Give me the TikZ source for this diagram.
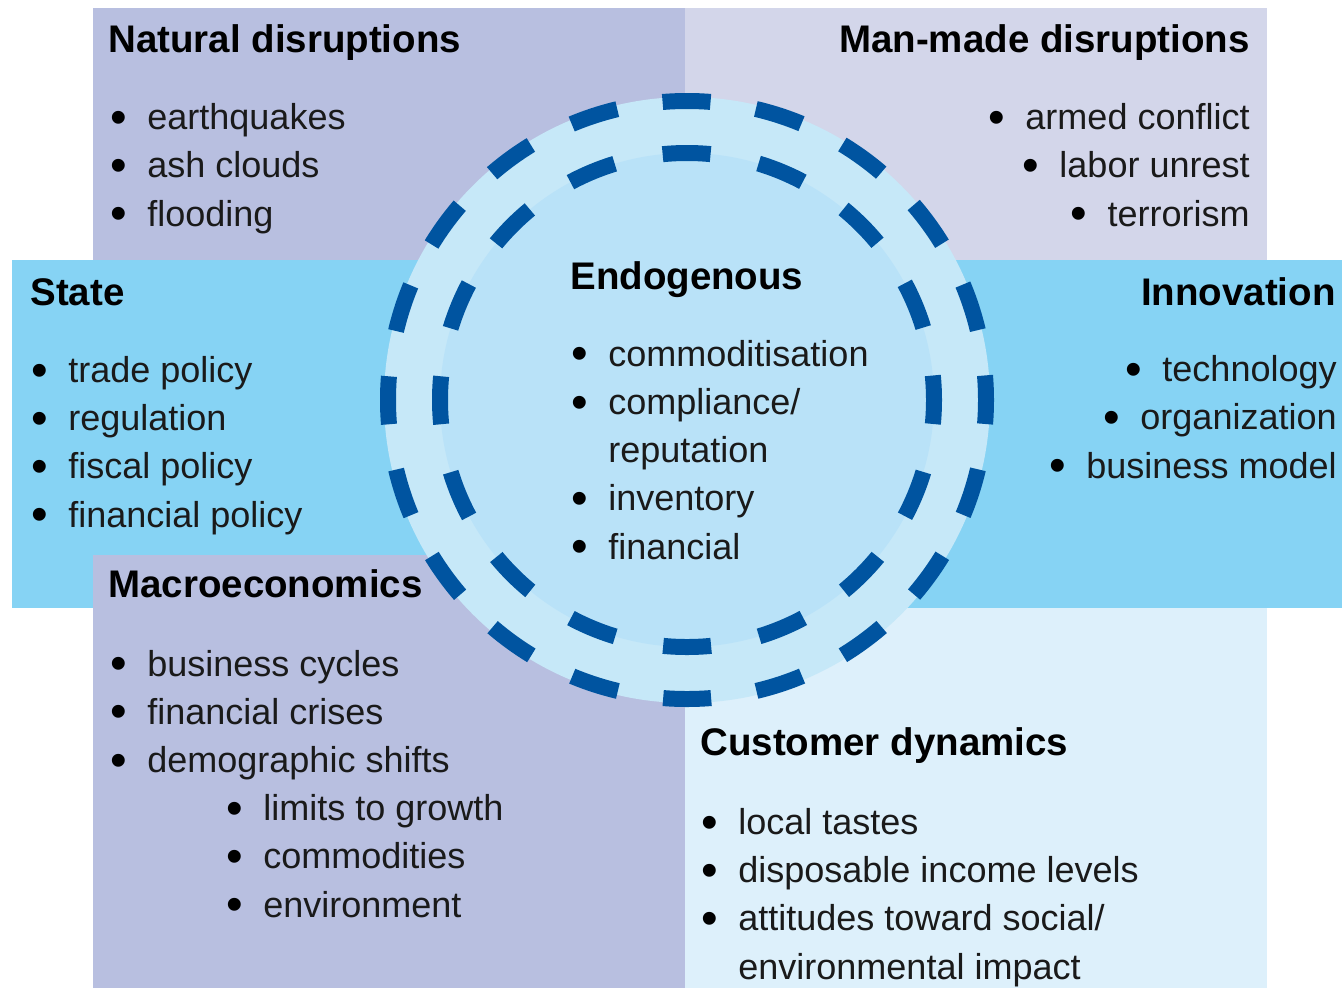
\documentclass[tikz,border=0pt]{standalone}
\usepackage{fontspec}
\setmainfont{Liberation Sans}
\usetikzlibrary{positioning}
\definecolor{natbg}{HTML}{B8BFE0}
\definecolor{manbg}{HTML}{D3D6EA}
\definecolor{bandbg}{HTML}{86D3F4}
\definecolor{custbg}{HTML}{DDF0FB}
\definecolor{diskout}{HTML}{C6E8F8}
\definecolor{diskin}{HTML}{B9E2F8}
\definecolor{dashblue}{HTML}{0054A0}
\definecolor{ink}{HTML}{1A1A1A}
\newcommand{\bul}{\makebox[0.74cm][l]{\raisebox{-0.07cm}{\fontsize{27}{27}\selectfont\textcolor{black}{\textbullet}}}}
\newcommand{\cont}{\hspace*{0.74cm}}
\tikzset{
    heading/.style={inner sep=0pt, text=black, font=\fontsize{21.9}{26}\selectfont\bfseries},
    bullets/.style={inner sep=0pt, text=ink, font=\fontsize{20.5}{27.4}\selectfont},
    ring/.style={dashblue, line width=0.32cm, dash phase=0.48cm},
}

\begin{document}
\begin{tikzpicture}[x=0.02cm, y=-0.02cm]
    \useasboundingbox (0,0) rectangle (1342,988);
    \fill[white] (0,0) rectangle (1342,988);

    % Draw quadrant boxes and the middle band.
    \fill[natbg] (93,8) rectangle (685,555);
    \fill[manbg] (685,8) rectangle (1267,260);
    \fill[bandbg] (12,260) rectangle (1342,608);
    \fill[natbg] (93,555) rectangle (685,988);
    \fill[custbg] (685,608) rectangle (1267,988);

    % Draw endogenous disk with dashed rings.
    \fill[diskout] (687,400) circle [radius=303];
    \fill[diskin] (687,400) circle [radius=247];
    \draw[ring, dash pattern=on 0.96cm off 0.9187cm] (687,400) circle [radius=299];
    \draw[ring, dash pattern=on 0.96cm off 0.9799cm] (687,400) circle [radius=247];

    % Top row (lists sit on the baseline of their last line).
    \node[heading, anchor=base west] (nat) at (108,52) {Natural disruptions};
    \node[bullets, anchor=base west, align=left] (natlist) at (110,226)
        {\bul earthquakes\\ \bul ash clouds\\ \bul flooding};
    \node[heading, anchor=base east] (man) at (1250,52) {Man-made disruptions};
    \node[bullets, anchor=base east, align=right] (manlist) at (1250,226)
        {\bul armed conflict\\ \bul labor unrest\\ \bul terrorism};

    % Middle band.
    \node[heading, anchor=base west] (state) at (30,305) {State};
    \node[bullets, anchor=base west, align=left] (statelist) at (31,527)
        {\bul trade policy\\ \bul regulation\\ \bul fiscal policy\\ \bul financial policy};
    \node[heading, anchor=base east] (inno) at (1336,305) {Innovation};
    \node[bullets, anchor=base east, align=right] (innolist) at (1337,478)
        {\bul technology\\ \bul organization\\ \bul business model};
    \node[heading, anchor=base west] (endo) at (570,289) {Endogenous};
    \node[bullets, anchor=base west, align=left] (endolist) at (571,559)
        {\bul commoditisation\\ \bul compliance/\\ \cont reputation\\ \bul inventory\\ \bul financial};

    % Bottom row.
    \node[heading, anchor=base west] (macro) at (108,597) {Macroeconomics};
    \node[bullets, anchor=base west, align=left] (macrolist) at (110,917)
        {\bul business cycles\\ \bul financial crises\\ \bul demographic shifts\\
         \hspace*{2.32cm}\bul limits to growth\\ \hspace*{2.32cm}\bul commodities\\
         \hspace*{2.32cm}\bul environment};
    \node[heading, anchor=base west] (cust) at (700,755) {Customer dynamics};
    \node[bullets, anchor=base west, align=left] (custlist) at (701,979)
        {\bul local tastes\\ \bul disposable income levels\\ \bul attitudes toward social/\\
         \cont environmental impact};
\end{tikzpicture}
\end{document}
